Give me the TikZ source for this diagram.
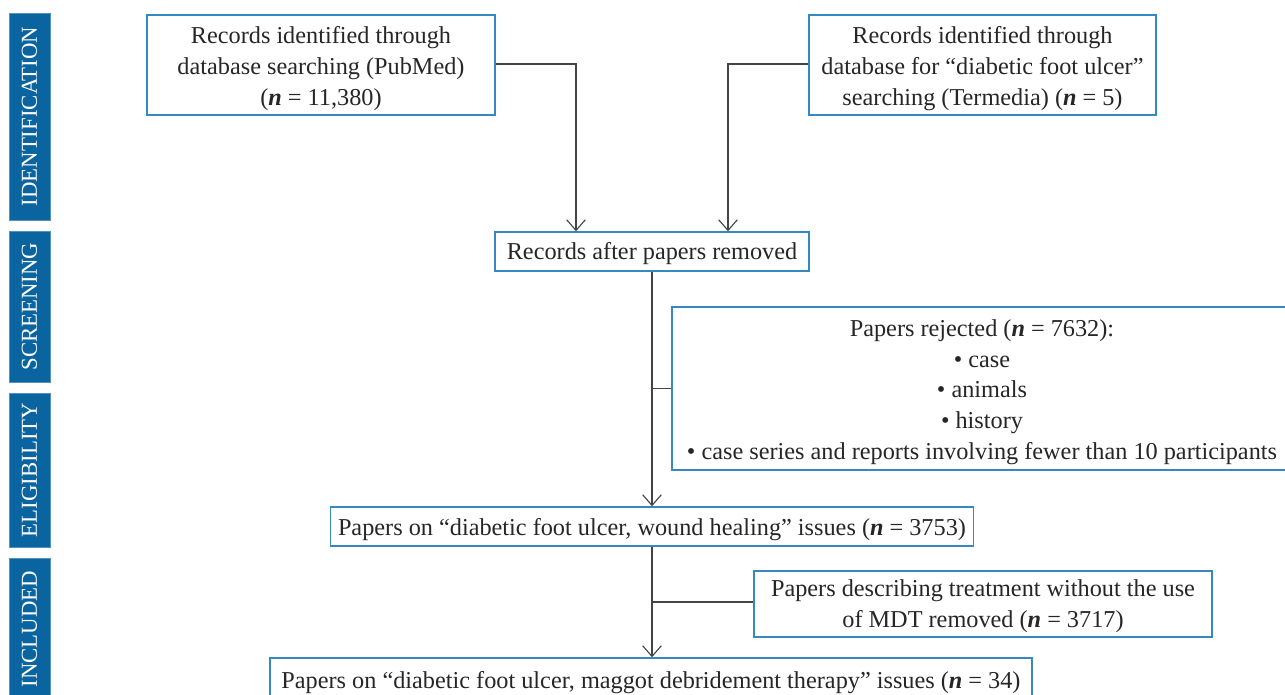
\documentclass[tikz,border=0pt]{standalone}
\usepackage{fontspec}
\setmainfont{Liberation Serif}
\usetikzlibrary{arrows.meta,calc}
\definecolor{sidebl}{HTML}{0A64A0}
\definecolor{boxbl}{HTML}{3688C0}
\definecolor{lngray}{HTML}{444444}
\newcommand{\tstrut}{\rule{0pt}{18pt}}
\begin{document}
\begin{tikzpicture}[x=0.75pt,y=-0.75pt,
  box/.style={draw=boxbl,line width=1.1pt,fill=white,inner sep=0pt,align=center,
    font=\fontsize{18.2}{23}\selectfont,text=black!85},
  side/.style={fill=sidebl,draw=sidebl!70!white,line width=0.4pt,rotate=90,inner sep=0pt,
    minimum height=30.75pt,text=white,font=\fontsize{17.1}{18}\selectfont},
  conn/.style={draw=lngray,line width=1.1pt},
  arr/.style={conn,-{Straight Barb[length=8pt,width=14pt,line width=0.85pt]}}]
\useasboundingbox (0,0) rectangle (1285,695);
% sidebars
\node[side,minimum width=155.25pt] (sid) at (29.5,116.5) {IDENTIFICATION};
\node[side,minimum width=113.25pt] (sscr) at (29.5,306.5) {SCREENING};
\node[side,minimum width=115.5pt] (selig) at (29.5,470) {ELIGIBILITY};
\node[side,minimum width=106.5pt] (sincl) at (29.5,629) {INCLUDED};
% boxes
\node[box,minimum width=261pt,minimum height=75pt] (b1) at (321,65)
  {\tstrut Records identified through\\database searching (PubMed)\\(\textbf{\textit{n}} = 11,380)};
\node[box,minimum width=260.25pt,minimum height=75pt] (b2) at (982.5,65)
  {\tstrut Records identified through\\database for “diabetic foot ulcer”\\searching (Termedia) (\textbf{\textit{n}} = 5)};
\node[box,minimum width=235.5pt,minimum height=29.25pt] (b3) at (652,251.5)
  {\rule{0pt}{16pt}Records after papers removed};
\node[box,minimum width=465pt,minimum height=122.25pt] (rej) at (982,388.5)
  {\tstrut Papers rejected (\textbf{\textit{n}} = 7632):\\• case\\• animals\\• history\\• case series and reports involving fewer than 10 participants};
\node[box,minimum width=482.25pt,minimum height=29.25pt] (b4) at (652,526.5)
  {\tstrut Papers on “diabetic foot ulcer, wound healing” issues (\textbf{\textit{n}} = 3753)};
\node[box,minimum width=343.5pt,minimum height=49.5pt] (mdt) at (983,604)
  {\rule{0pt}{16pt}Papers describing treatment without the use\\of MDT removed (\textbf{\textit{n}} = 3717)};
\node[box,minimum width=571.5pt,minimum height=31.5pt] (b5) at (651,679)
  {\tstrut Papers on “diabetic foot ulcer, maggot debridement therapy” issues (\textbf{\textit{n}} = 34)};
% connectors
\draw[arr] ([yshift=0.75pt]b1.east) -| ([xshift=-57pt]b3.north);
\draw[arr] ([yshift=0.75pt]b2.west) -| ([xshift=57pt]b3.north);
\draw[arr] (b3.south) -- (b3.south |- b4.north);
\draw[conn] (b3.south |- rej.west) -- (rej.west);
\draw[arr] (b4.south) -- (b4.south |- b5.north);
\draw[conn] ([yshift=1.5pt]b4.south |- mdt.west) -- ([yshift=1.5pt]mdt.west);
\end{tikzpicture}
\end{document}
